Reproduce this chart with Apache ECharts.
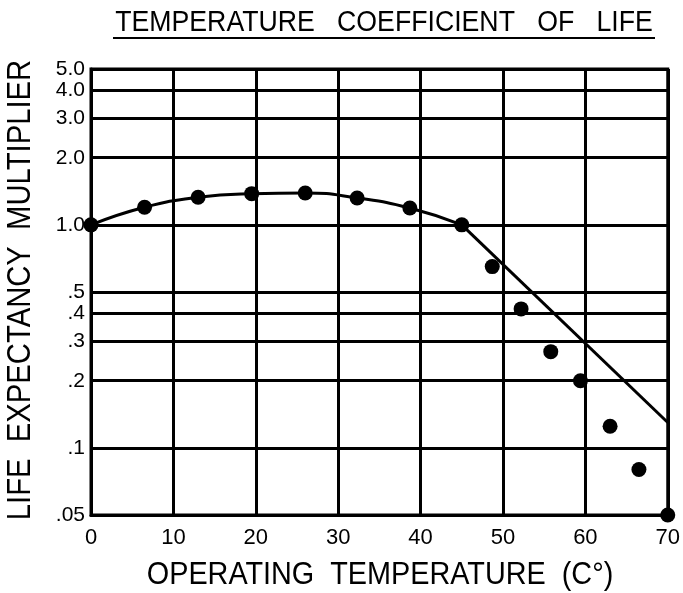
<!DOCTYPE html>
<html>
<head>
<meta charset="utf-8">
<script src="https://cdn.jsdelivr.net/npm/echarts@6/dist/echarts.min.js"></script>
<style>html,body{margin:0;padding:0;background:#fff}#c{width:683px;height:593px}</style>
</head>
<body>
<div id="c"></div>
<script>
const yTickValues = [0.05, 0.1, 0.2, 0.3, 0.4, 0.5, 1, 2, 3, 4, 5];
const yTickLabels = ['.05', '.1', '.2', '.3', '.4', '.5', '1.0', '2.0', '3.0', '4.0', '5.0'];
const pointTemps = [0, 6.5, 13, 19.5, 26, 32.3, 38.7, 45, 48.7, 52.2, 55.8, 59.4, 63, 66.5, 70];
const pointMult  = [1.0, 1.2, 1.33, 1.38, 1.39, 1.32, 1.19, 1.0, 0.65, 0.42, 0.27, 0.2, 0.125, 0.08, 0.05];
const curveTemps = [0, 6.5, 13, 19.5, 26, 32.3, 38.7, 45];
const curveMult  = [1.0, 1.2, 1.33, 1.38, 1.39, 1.32, 1.19, 1.0];
const tailTemps  = [45, 70];
const tailMult   = [1.0, 0.13];

const FONT = '"Liberation Sans", Arial, sans-serif';
const chart = echarts.init(document.getElementById('c'), null, {renderer: 'canvas'});
const zip = (a, b) => a.map((v, i) => [v, b[i]]);

chart.setOption({
  backgroundColor: '#fff',
  animation: false,
  grid: {left: 91, right: 15, top: 69, bottom: 78, show: true, borderColor: '#000', borderWidth: 3, backgroundColor: 'transparent'},
  xAxis: {
    type: 'value', min: 0, max: 70, interval: 10,
    axisLine: {show: true, lineStyle: {color: '#000', width: 3}},
    axisTick: {show: false},
    splitLine: {show: true, lineStyle: {color: '#000', width: 3}},
    axisLabel: {color: '#000', fontSize: 22, fontFamily: FONT, margin: 12}
  },
  yAxis: {
    type: 'log', logBase: 10, min: 0.05, max: 5,
    axisLine: {show: true, lineStyle: {color: '#000', width: 3}},
    axisTick: {show: false},
    splitLine: {show: false},
    minorSplitLine: {show: false},
    axisLabel: {show: false}
  },
  graphic: [
    {type: 'text', x: 384, y: 23, scaleX: 0.92,
     style: {text: 'TEMPERATURE   COEFFICIENT   OF   LIFE', font: '29px ' + FONT, fill: '#000', textAlign: 'center', textVerticalAlign: 'middle'}},
    {type: 'rect', shape: {x: 113, y: 37, width: 542, height: 2}, style: {fill: '#000'}},
    {type: 'text', x: 380, y: 575, scaleX: 0.9,
     style: {text: 'OPERATING  TEMPERATURE  (C°)', font: '32px ' + FONT, fill: '#000', textAlign: 'center', textVerticalAlign: 'middle'}},
    {type: 'text', x: 21, y: 290, rotation: Math.PI / 2, scaleX: 0.86,
     style: {text: 'LIFE  EXPECTANCY  MULTIPLIER', font: '34px ' + FONT, fill: '#000', textAlign: 'center', textVerticalAlign: 'middle'}}
  ],
  series: [
    {
      type: 'line', name: 'grid', data: [], silent: true,
      markLine: {
        silent: true, symbol: 'none', animation: false,
        lineStyle: {color: '#000', width: 3, type: 'solid'},
        label: {show: true, position: 'start', distance: 6, color: '#000', fontSize: 21, fontFamily: FONT},
        data: yTickValues.map((v, i) => ({yAxis: v, label: {formatter: yTickLabels[i]}}))
      }
    },
    {type: 'line', name: 'curve', data: zip(curveTemps, curveMult), smooth: true, showSymbol: false, clip: false,
     lineStyle: {color: '#000', width: 3}, z: 3},
    {type: 'line', name: 'tail', data: zip(tailTemps, tailMult), smooth: false, showSymbol: false, clip: false,
     lineStyle: {color: '#000', width: 3}, z: 3},
    {type: 'scatter', name: 'points', data: zip(pointTemps, pointMult), symbol: 'circle', symbolSize: 15, clip: false,
     itemStyle: {color: '#000', opacity: 1}, z: 4}
  ]
});
</script>
</body>
</html>
